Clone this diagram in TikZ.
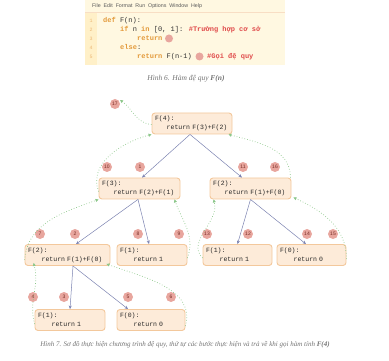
\documentclass[tikz,border=0pt]{standalone}
\usepackage{fontspec}
\usepackage{tikz}
\usetikzlibrary{arrows.meta, positioning, calc}
\newfontfamily\codefont{Liberation Mono}
\newfontfamily\capfont{Liberation Serif}
\newfontfamily\menufont{Liberation Sans}

\definecolor{boxfill}{HTML}{FDEBD9}
\definecolor{boxline}{HTML}{F3C89C}
\definecolor{badgefill}{HTML}{E8A69E}
\definecolor{badgetext}{HTML}{7A2E26}
\definecolor{callblue}{HTML}{7B82B0}
\definecolor{retgreen}{HTML}{8CC78A}
\definecolor{edbg}{HTML}{FFF8E1}
\definecolor{gutter}{HTML}{FFF0C8}
\definecolor{kwcolor}{HTML}{E39A3B}
\definecolor{cmcolor}{HTML}{E04A4A}

\tikzset{
    fbox/.style={draw=boxline, fill=boxfill, line width=0.9pt, rounded corners=3pt,
        align=left, inner xsep=3pt, inner ysep=2pt, minimum height=21pt,
        font=\fontsize{6.5}{9}\codefont, text=black!85},
    badge/.style={circle, fill=badgefill, inner sep=0pt, minimum size=10pt,
        font=\fontsize{5}{5}\menufont, text=badgetext},
    call/.style={-{Stealth[length=3.5pt, width=3pt]}, callblue, line width=0.5pt},
    ret/.style={-{Triangle[length=3pt, width=3pt]}, retgreen, dotted, line width=0.7pt},
    codeline/.style={anchor=base west, inner sep=0pt, font=\fontsize{7}{8}\codefont, text=black!80},
    lineno/.style={anchor=base, inner sep=0pt, font=\fontsize{5}{5}\codefont, text=kwcolor!70},
}

\begin{document}
\begin{tikzpicture}[x=1pt, y=-1pt]
    \useasboundingbox (0,0) rectangle (389,361);

    % editor window
    \fill[edbg] (85,0) rectangle (285,65);
    \fill[gutter] (85,13) rectangle (97,65);
    \draw[boxline!60, line width=0.3pt] (85,12.5) -- (285,12.5);
    \node[anchor=base west, inner sep=0pt, font=\fontsize{5.3}{6}\menufont, text=black!65]
        (menu) at (92,8) {File\ \ Edit\ \ Format\ \ Run\ \ Options\ \ Window\ \ Help};

    \node[lineno] (n1) at (91,23) {1};
    \node[lineno] (n2) at (91,32) {2};
    \node[lineno] (n3) at (91,41) {3};
    \node[lineno] (n4) at (91,50) {4};
    \node[lineno] (n5) at (91,59) {5};

    \node[codeline] (ln1) at (103,23) {\textcolor{kwcolor}{\bfseries def} F(n):};
    \node[codeline] (ln2) at (120,32) {\textcolor{kwcolor}{\bfseries if} n \textcolor{kwcolor}{\bfseries in} [0, 1]: \textcolor{cmcolor}{\bfseries\#Trường hợp cơ sở}};
    \node[codeline] (ln3) at (137,41) {\textcolor{kwcolor}{\bfseries return}};
    \node[codeline] (ln4) at (120,50) {\textcolor{kwcolor}{\bfseries else}:};
    \node[codeline] (ln5) at (137,59) {\textcolor{kwcolor}{\bfseries return} F(n-1)};
    \node[codeline] (cm5) at (207,59) {\textcolor{cmcolor}{\bfseries\#Gọi đệ quy}};
    \fill[badgefill] (169,38.5) circle (4pt);
    \fill[badgefill] (199.5,56.5) circle (4pt);

    \node[inner sep=0pt, font=\fontsize{7.5}{8}\capfont\itshape, text=black!55]
        (cap1) at (186,79) {Hình 6. Hàm đệ quy \textbf{F(n)}};

    % call tree
    \node[fbox, text width=74pt] (f4)  at (192,123.5) {F(4):\\\hspace*{1.8em}return F(3)+F(2)};
    \node[fbox, text width=75pt] (f3)  at (139.5,188.5) {F(3):\\\hspace*{1.8em}return F(2)+F(1)};
    \node[fbox, text width=75pt] (f2r) at (250.5,188.5) {F(2):\\\hspace*{1.8em}return F(1)+F(0)};
    \node[fbox, text width=79pt] (f2l) at (67.5,255) {F(2):\\\hspace*{2.1em}return F(1)+F(0)};
    \node[fbox, text width=64pt] (f1a) at (152,255) {F(1):\\\hspace*{2.1em}return 1};
    \node[fbox, text width=63pt] (f1b) at (237.5,255) {F(1):\\\hspace*{2.1em}return 1};
    \node[fbox, text width=63pt] (f0a) at (311.5,255) {F(0):\\\hspace*{2.1em}return 0};
    \node[fbox, text width=64pt] (f1c) at (70,320) {F(1):\\\hspace*{2.1em}return 1};
    \node[fbox, text width=62pt] (f0b) at (151,320) {F(0):\\\hspace*{2.1em}return 0};

    % step numbers
    \node[badge] (b17) at (115,104) {17};
    \node[badge] (b10) at (107,167) {10};
    \node[badge] (b1)  at (140,167) {1};
    \node[badge] (b11) at (243,167) {11};
    \node[badge] (b16) at (275,167) {16};
    \node[badge] (b7)  at (40,234)  {7};
    \node[badge] (b2)  at (75,234)  {2};
    \node[badge] (b8)  at (138,234) {8};
    \node[badge] (b9)  at (179,234) {9};
    \node[badge] (b13) at (207,234) {13};
    \node[badge] (b12) at (248,234) {12};
    \node[badge] (b14) at (307,234) {14};
    \node[badge] (b15) at (333,234) {15};
    \node[badge] (b4)  at (33,297)  {4};
    \node[badge] (b3)  at (64,297)  {3};
    \node[badge] (b5)  at (128,297) {5};
    \node[badge] (b6)  at (171,297) {6};

    % calls
    \draw[call] ([xshift=-2pt]f4.south) -- ([xshift=2.5pt]f3.north);
    \draw[call] ([xshift=-2pt]f4.south) -- ([xshift=-8.5pt]f2r.north);
    \draw[call] ([xshift=-1.5pt]f3.south) -- ([xshift=8.5pt]f2l.north);
    \draw[call] ([xshift=-1.5pt]f3.south) -- ([xshift=-3pt]f1a.north);
    \draw[call] (f2r.south) -- (f1b.north);
    \draw[call] (f2r.south) -- ([xshift=-5.5pt]f0a.north);
    \draw[call] ([xshift=5.5pt]f2l.south) -- (f1c.north);
    \draw[call] ([xshift=5.5pt]f2l.south) -- ([xshift=-23pt]f0b.north);

    % returns
    \draw[ret] ([yshift=-1pt]f4.west) to[out=175, in=-35] ([shift={(5pt,4pt)}]b17.center);
    \draw[ret] ([yshift=-3pt]f3.west) to[out=110, in=195] (f4.south west);
    \draw[ret] ([xshift=-1pt]f2r.north east) to[out=90, in=-15] ([xshift=-4pt]f4.south east);
    \draw[ret] ([yshift=-5pt]f2l.west) to[out=85, in=200] (f3.south west);
    \draw[ret] ([yshift=-3pt]f1a.east) to[out=70, in=-70] ([xshift=-6pt]f3.south east);
    \draw[ret] ([yshift=-3pt]f1b.west) to[out=135, in=-75] ([xshift=4pt]f2r.south west);
    \draw[ret] ([yshift=-4pt]f0a.east) to[out=90, in=-25] ([xshift=2pt, yshift=2pt]f2r.south east);
    \draw[ret] ([yshift=-4pt]f1c.west) to[out=105, in=-75] ([xshift=9pt, yshift=3pt]f2l.south west);
    \draw[ret] ([yshift=-6pt]f0b.east) to[out=75, in=-20] ([xshift=-4pt, yshift=2pt]f2l.south east);

    \node[inner sep=0pt, font=\fontsize{7}{8}\capfont\itshape, text=black!55]
        (cap2) at (185,345) {Hình 7. Sơ đồ thực hiện chương trình đệ quy, thứ tự các bước thực hiện và trả về khi gọi hàm tính \textbf{F(4)}};
\end{tikzpicture}
\end{document}
